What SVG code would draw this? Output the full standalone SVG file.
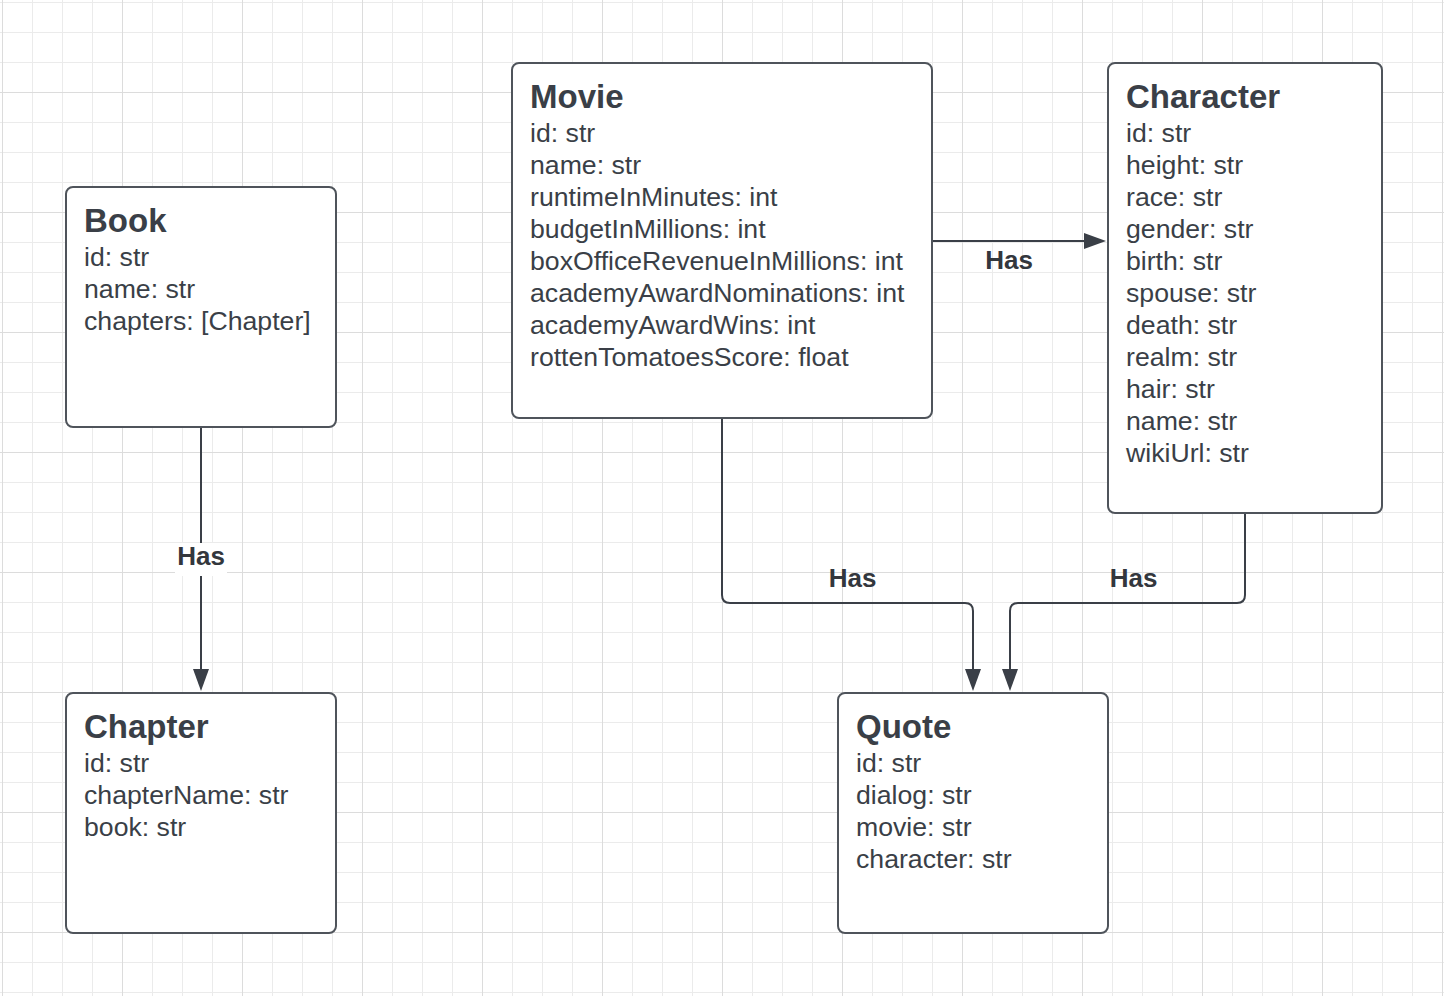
<svg xmlns="http://www.w3.org/2000/svg" width="1444" height="996" viewBox="0 0 1444 996">
<defs>
<pattern id="minor" patternUnits="userSpaceOnUse" x="2" y="2" width="30" height="30">
<path d="M0.5,0 V30 M0,0.5 H30" stroke="#ebebeb" stroke-width="1" fill="none"/>
</pattern>
<pattern id="majorV" patternUnits="userSpaceOnUse" x="2" y="0" width="120" height="996">
<path d="M0.5,0 V996" stroke="#dcdcdc" stroke-width="1" fill="none"/>
</pattern>
<pattern id="majorH" patternUnits="userSpaceOnUse" x="0" y="92" width="1444" height="120">
<path d="M0,0.5 H1444" stroke="#dcdcdc" stroke-width="1" fill="none"/>
</pattern>
<marker id="arrow" viewBox="0 0 22 16" markerUnits="userSpaceOnUse" markerWidth="22" markerHeight="16" refX="18" refY="8" orient="auto">
<path d="M0,0 L22,8 L0,16 Z" fill="#3a3f47"/>
</marker>
</defs>
<style>
.box{fill:#ffffff;stroke:#4f545b;stroke-width:2}
.title{font-family:"Liberation Sans",Arial,sans-serif;font-weight:bold;font-size:33px;fill:#3a3f47}
.attr{font-family:"Liberation Sans",Arial,sans-serif;font-size:26.67px;fill:#3a3f47}
.conn{fill:none;stroke:#3a3f47;stroke-width:2}
.lbl{font-family:"Liberation Sans",Arial,sans-serif;font-weight:bold;font-size:26px;fill:#33373d;text-anchor:middle}
</style>
<rect width="1444" height="996" fill="#ffffff"/>
<rect width="1444" height="996" fill="url(#minor)"/>
<rect width="1444" height="996" fill="url(#majorV)"/>
<rect width="1444" height="996" fill="url(#majorH)"/>

<g id="connectors">
<path class="conn" d="M201,427 V687" marker-end="url(#arrow)"/>
<path class="conn" d="M932,241 H1102" marker-end="url(#arrow)"/>
<path class="conn" d="M722,418 V595 Q722,603 730,603 H965 Q973,603 973,611 V687" marker-end="url(#arrow)"/>
<path class="conn" d="M1245,513 V595 Q1245,603 1237,603 H1018 Q1010,603 1010,611 V687" marker-end="url(#arrow)"/>
<rect x="175" y="543" width="52" height="33" fill="#ffffff"/>
<text class="lbl" x="201" y="565">Has</text>
<text class="lbl" x="1009" y="268.5">Has</text>
<text class="lbl" x="852.5" y="587">Has</text>
<text class="lbl" x="1133.5" y="587">Has</text>
</g>

<g id="book">
<rect class="box" x="66" y="187" width="270" height="240" rx="7"/>
<text class="title" x="84" y="232">Book</text>
<text class="attr" x="84" y="266"><tspan x="84">id: str</tspan><tspan x="84" dy="32">name: str</tspan><tspan x="84" dy="32">chapters: [Chapter]</tspan></text>
</g>

<g id="chapter">
<rect class="box" x="66" y="693" width="270" height="240" rx="7"/>
<text class="title" x="84" y="738">Chapter</text>
<text class="attr" x="84" y="772"><tspan x="84">id: str</tspan><tspan x="84" dy="32">chapterName: str</tspan><tspan x="84" dy="32">book: str</tspan></text>
</g>

<g id="movie">
<rect class="box" x="512" y="63" width="420" height="355" rx="7"/>
<text class="title" x="530" y="108">Movie</text>
<text class="attr" x="530" y="142"><tspan x="530">id: str</tspan><tspan x="530" dy="32">name: str</tspan><tspan x="530" dy="32">runtimeInMinutes: int</tspan><tspan x="530" dy="32">budgetInMillions: int</tspan><tspan x="530" dy="32">boxOfficeRevenueInMillions: int</tspan><tspan x="530" dy="32">academyAwardNominations: int</tspan><tspan x="530" dy="32">academyAwardWins: int</tspan><tspan x="530" dy="32">rottenTomatoesScore: float</tspan></text>
</g>

<g id="character">
<rect class="box" x="1108" y="63" width="274" height="450" rx="7"/>
<text class="title" x="1126" y="108">Character</text>
<text class="attr" x="1126" y="142"><tspan x="1126">id: str</tspan><tspan x="1126" dy="32">height: str</tspan><tspan x="1126" dy="32">race: str</tspan><tspan x="1126" dy="32">gender: str</tspan><tspan x="1126" dy="32">birth: str</tspan><tspan x="1126" dy="32">spouse: str</tspan><tspan x="1126" dy="32">death: str</tspan><tspan x="1126" dy="32">realm: str</tspan><tspan x="1126" dy="32">hair: str</tspan><tspan x="1126" dy="32">name: str</tspan><tspan x="1126" dy="32">wikiUrl: str</tspan></text>
</g>

<g id="quote">
<rect class="box" x="838" y="693" width="270" height="240" rx="7"/>
<text class="title" x="856" y="738">Quote</text>
<text class="attr" x="856" y="772"><tspan x="856">id: str</tspan><tspan x="856" dy="32">dialog: str</tspan><tspan x="856" dy="32">movie: str</tspan><tspan x="856" dy="32">character: str</tspan></text>
</g>
</svg>
